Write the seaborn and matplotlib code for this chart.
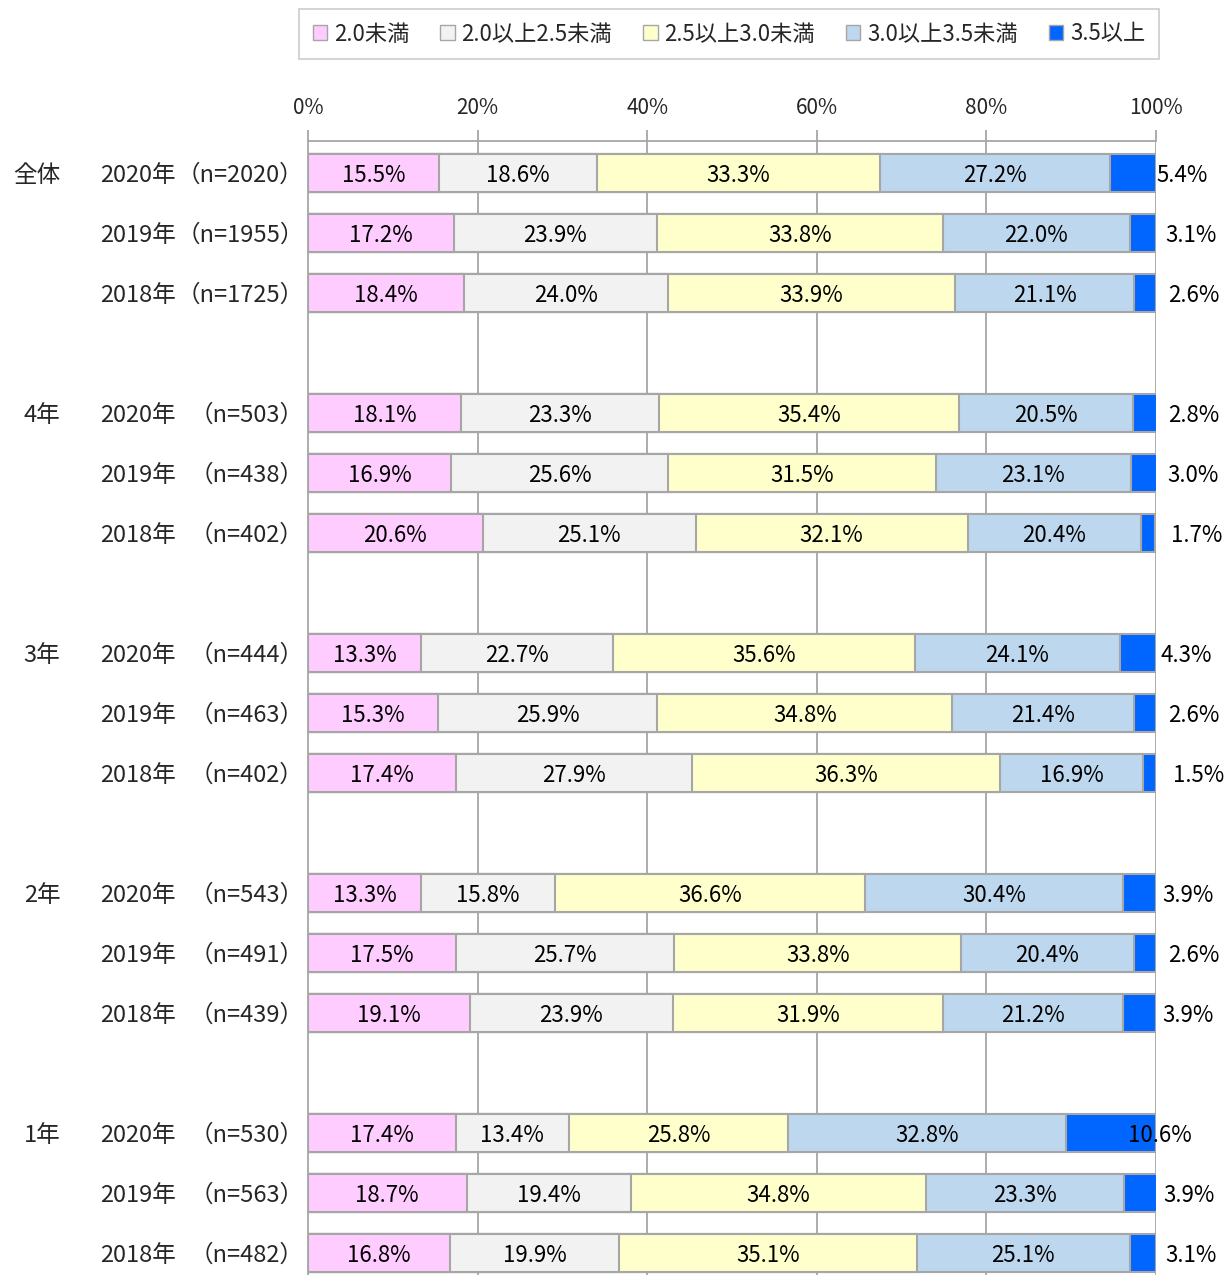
import matplotlib
matplotlib.use('Agg')
import matplotlib.pyplot as plt
import pandas as pd
import seaborn as sns
from matplotlib.patches import Patch

# data
categories = ['2.0未満', '2.0以上2.5未満', '2.5以上3.0未満', '3.0以上3.5未満', '3.5以上']
colors = ['#FFCCFF', '#F2F2F2', '#FFFFCC', '#BDD7EE', '#0066FF']
groups = ['全体', '4年', '3年', '2年', '1年']
years = ['2020年', '2019年', '2018年']
n_values = [2020, 1955, 1725, 503, 438, 402, 444, 463, 402, 543, 491, 439, 530, 563, 482]

share_lt20 = [15.5, 17.2, 18.4, 18.1, 16.9, 20.6, 13.3, 15.3, 17.4, 13.3, 17.5, 19.1, 17.4, 18.7, 16.8]
share_20_25 = [18.6, 23.9, 24.0, 23.3, 25.6, 25.1, 22.7, 25.9, 27.9, 15.8, 25.7, 23.9, 13.4, 19.4, 19.9]
share_25_30 = [33.3, 33.8, 33.9, 35.4, 31.5, 32.1, 35.6, 34.8, 36.3, 36.6, 33.8, 31.9, 25.8, 34.8, 35.1]
share_30_35 = [27.2, 22.0, 21.1, 20.5, 23.1, 20.4, 24.1, 21.4, 16.9, 30.4, 20.4, 21.2, 32.8, 23.3, 25.1]
share_ge35 = [5.4, 3.1, 2.6, 2.8, 3.0, 1.7, 4.3, 2.6, 1.5, 3.9, 2.6, 3.9, 10.6, 3.9, 3.1]

series = [share_lt20, share_20_25, share_25_30, share_30_35, share_ge35]

# one row per bar, with a blank slot between groups
rows = []
for g, grp in enumerate(groups):
    for k, yr in enumerate(years):
        i = g * 3 + k
        rows.append({'pos': g * 4 + k, 'group': grp, 'year': yr, 'n': n_values[i]})
df = pd.DataFrame(rows)
for c, s in zip(categories, series):
    df[c] = s

sns.set_theme(style='white')
plt.rcParams['font.family'] = ['Noto Sans CJK JP', 'DejaVu Sans']

fig = plt.figure(figsize=(12.32, 12.75), dpi=100)
ax = fig.add_axes([0.25, 0.0, 0.6883, 0.8894])

edge = '#A6A6A6'
for x in [20, 40, 60, 80, 100]:
    ax.axvline(x, color=edge, lw=1.3, zorder=0)

# stacked bars: draw cumulative totals from the longest down
cum = df[categories].cumsum(axis=1)
for j in range(len(categories) - 1, -1, -1):
    sns.barplot(x=cum[categories[j]], y=df['pos'], orient='h', native_scale=True,
                width=0.63, color=colors[j], saturation=1, edgecolor=edge,
                linewidth=1.5, errorbar=None, ax=ax, zorder=2)

dy = 0.04  # nudge text down a little to sit on the bar centre

# segment labels
for _, r in df.iterrows():
    left = 0
    for j, c in enumerate(categories):
        v = r[c]
        mid = left + v / 2
        if j < len(categories) - 1:
            ax.text(mid, r['pos'] + dy, f'{v:.1f}%', ha='center', va='center',
                    fontsize=16, color='black', zorder=5)
        else:
            ax.annotate(f'{v:.1f}%', (mid, r['pos'] + dy), xytext=(35, 0),
                        textcoords='offset points', ha='center', va='center',
                        fontsize=16, color='black', zorder=5, annotation_clip=False)
        left += v

# row labels
ytr = ax.get_yaxis_transform()
for _, r in df.iterrows():
    ax.text(-0.245, r['pos'] + dy, r['year'], transform=ytr, ha='left', va='center', fontsize=17)
    ax.text(-0.005, r['pos'] + dy, f'（n={r["n"]}）', transform=ytr, ha='right', va='center', fontsize=17)
    if r['year'] == years[0]:
        ax.text(-0.292, r['pos'] + dy, r['group'], transform=ytr, ha='right', va='center', fontsize=17)

ax.set_xlim(0, 100)
ax.set_ylim(18.367, -0.533)
ax.set_xticks([0, 20, 40, 60, 80, 100])
ax.set_xticklabels([f'{t}%' for t in [0, 20, 40, 60, 80, 100]], fontsize=15)
ax.xaxis.tick_top()
ax.tick_params(axis='x', direction='out', length=8, width=1.3, color=edge, pad=8)
ax.set_yticks([])
ax.set_xlabel('')
ax.set_ylabel('')
for side in ['bottom', 'right']:
    ax.spines[side].set_visible(False)
for side in ['top', 'left']:
    ax.spines[side].set_color(edge)
    ax.spines[side].set_linewidth(1.3)

handles = [Patch(facecolor=c, edgecolor=edge, label=l) for c, l in zip(colors, categories)]
leg = fig.legend(handles=handles, loc='center', bbox_to_anchor=(0.5917, 0.9733), ncol=5,
                 fontsize=16, frameon=True, fancybox=False, edgecolor='#BFBFBF',
                 handlelength=0.65, handleheight=0.65, handletextpad=0.3, columnspacing=1.4,
                 borderpad=0.6)
leg.get_frame().set_linewidth(1.2)

fig.savefig('out.png', dpi=100)
